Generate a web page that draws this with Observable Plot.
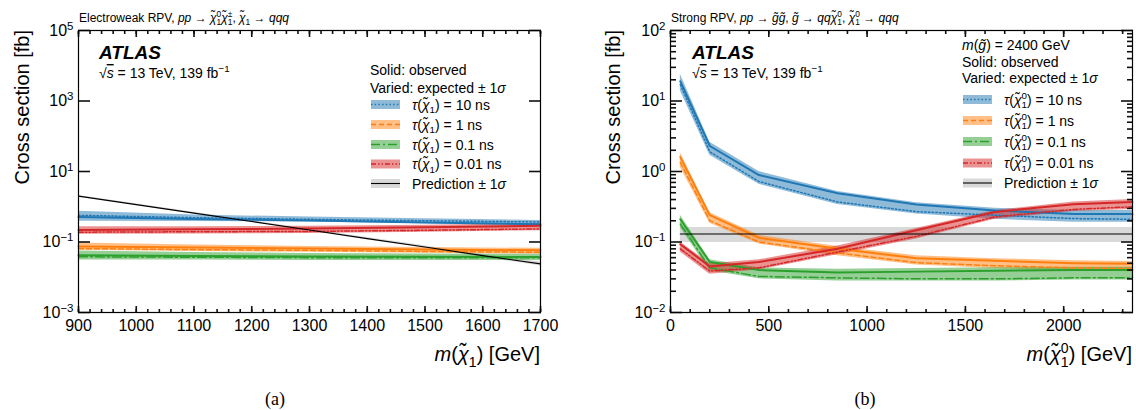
<!DOCTYPE html>
<html><head><meta charset="utf-8">
<script src="https://cdn.jsdelivr.net/npm/d3@7"></script>
<script src="https://cdn.jsdelivr.net/npm/@observablehq/plot@0.6"></script>
<style>
html,body{margin:0;padding:0;background:#fff;}
#wrap{position:relative;width:1136px;height:410px;overflow:hidden;background:#fff;}
#wrap svg{position:absolute;top:0;}
</style></head><body><div id="wrap"></div>
<script>
// ---------- Panel (a): Electroweak RPV ----------
const ewMass = [900, 1100, 1300, 1500, 1700];
const ew10Obs = [0.51, 0.45, 0.41, 0.36, 0.32];
const ew10Exp = [0.57, 0.49, 0.44, 0.40, 0.37];
const ew10Lo  = [0.39, 0.38, 0.37, 0.33, 0.29];
const ew10Hi  = [0.74, 0.58, 0.51, 0.46, 0.41];
const ew1Obs  = [0.075, 0.070, 0.065, 0.061, 0.058];
const ew1Exp  = [0.065, 0.061, 0.058, 0.054, 0.051];
const ew1Lo   = [0.058, 0.054, 0.051, 0.048, 0.045];
const ew1Hi   = [0.094, 0.082, 0.075, 0.070, 0.066];
const ew01Obs = [0.042, 0.040, 0.039, 0.038, 0.0375];
const ew01Exp = [0.038, 0.037, 0.036, 0.036, 0.036];
const ew01Lo  = [0.031, 0.031, 0.030, 0.030, 0.030];
const ew01Hi  = [0.056, 0.050, 0.047, 0.046, 0.045];
const ew001Obs = [0.22, 0.23, 0.24, 0.26, 0.29];
const ew001Exp = [0.19, 0.195, 0.20, 0.215, 0.235];
const ew001Lo  = [0.165, 0.17, 0.175, 0.19, 0.21];
const ew001Hi  = [0.27, 0.27, 0.28, 0.30, 0.33];
const ewPredMass = [900, 1000, 1100, 1200, 1300, 1400, 1500, 1600, 1700];
const ewPred   = [2.0, 1.15, 0.66, 0.38, 0.22, 0.125, 0.072, 0.041, 0.024];
const ewPredLo = [1.9, 1.09, 0.62, 0.36, 0.205, 0.115, 0.066, 0.037, 0.021];
const ewPredHi = [2.1, 1.21, 0.70, 0.40, 0.235, 0.135, 0.078, 0.045, 0.027];
const ewXTicks = [900, 1000, 1100, 1200, 1300, 1400, 1500, 1600, 1700];
const ewXMinor = d3.range(900, 1701, 20);
const ewYTicks = [1e-3, 1e-1, 1e1, 1e3, 1e5];

// ---------- Panel (b): Strong RPV ----------
const stMass = [50, 200, 450, 850, 1250, 1650, 2050, 2350];
const st10Obs = [19, 2.3, 0.89, 0.49, 0.34, 0.28, 0.25, 0.25];
const st10Exp = [17, 1.9, 0.72, 0.37, 0.27, 0.24, 0.215, 0.21];
const st10Lo  = [14, 1.7, 0.66, 0.34, 0.25, 0.21, 0.19, 0.19];
const st10Hi  = [24, 2.6, 1.0, 0.52, 0.36, 0.30, 0.28, 0.28];
const st1Obs  = [1.6, 0.24, 0.115, 0.080, 0.059, 0.054, 0.050, 0.049];
const st1Exp  = [1.35, 0.20, 0.10, 0.070, 0.051, 0.046, 0.043, 0.042];
const st1Lo   = [1.15, 0.185, 0.094, 0.064, 0.047, 0.042, 0.039, 0.038];
const st1Hi   = [1.85, 0.26, 0.125, 0.086, 0.064, 0.058, 0.054, 0.053];
const st01Obs = [0.21, 0.052, 0.040, 0.037, 0.038, 0.039, 0.040, 0.040];
const st01Exp = [0.18, 0.043, 0.0325, 0.031, 0.030, 0.030, 0.031, 0.031];
const st01Lo  = [0.16, 0.039, 0.030, 0.028, 0.028, 0.028, 0.029, 0.029];
const st01Hi  = [0.24, 0.056, 0.043, 0.041, 0.042, 0.043, 0.044, 0.044];
const st001Obs = [0.093, 0.045, 0.052, 0.080, 0.147, 0.267, 0.344, 0.37];
const st001Exp = [0.080, 0.0386, 0.043, 0.072, 0.12, 0.227, 0.29, 0.316];
const st001Lo  = [0.072, 0.035, 0.040, 0.066, 0.11, 0.21, 0.27, 0.29];
const st001Hi  = [0.10, 0.049, 0.056, 0.088, 0.155, 0.28, 0.37, 0.40];
const stPredMass = [50, 2350];
const stPred   = [0.13, 0.13];
const stPredLo = [0.098, 0.098];
const stPredHi = [0.16, 0.16];
const stXTicks = [0, 500, 1000, 1500, 2000];
const stXMinor = d3.range(0, 2351, 100);
const stYTicks = [1e-2, 1e-1, 1, 1e1, 1e2];
const stYMinor = [1e-2, 1e-1, 1, 10].flatMap(b => [2,3,4,5,6,7,8,9].map(k => k * b));

// ---------- styles ----------
const COL = {b: "#1f77b4", o: "#ff7f0e", g: "#2ca02c", r: "#d62728"};
const DASH = {b: "1.5,2.2", o: "5,3", g: "9,3,2,3", r: "5,2,1.5,2,1.5,2"};
const FONT = '"Liberation Sans", Arial, Helvetica, sans-serif';

function rows(mass, obs, exp, lo, hi) {
  return mass.map((m, i) => ({m, obs: obs[i], exp: exp[i], lo: lo[i], hi: hi[i]}));
}
const ewSeries = [
  {k: "b", d: rows(ewMass, ew10Obs, ew10Exp, ew10Lo, ew10Hi)},
  {k: "o", d: rows(ewMass, ew1Obs, ew1Exp, ew1Lo, ew1Hi)},
  {k: "g", d: rows(ewMass, ew01Obs, ew01Exp, ew01Lo, ew01Hi)},
  {k: "r", d: rows(ewMass, ew001Obs, ew001Exp, ew001Lo, ew001Hi)}
];
const stSeries = [
  {k: "b", d: rows(stMass, st10Obs, st10Exp, st10Lo, st10Hi)},
  {k: "o", d: rows(stMass, st1Obs, st1Exp, st1Lo, st1Hi)},
  {k: "g", d: rows(stMass, st01Obs, st01Exp, st01Lo, st01Hi)},
  {k: "r", d: rows(stMass, st001Obs, st001Exp, st001Lo, st001Hi)}
];
const ewPredRows = ewPredMass.map((m, i) => ({m, v: ewPred[i], lo: ewPredLo[i], hi: ewPredHi[i]}));
const stPredRows = stPredMass.map((m, i) => ({m, v: stPred[i], lo: stPredLo[i], hi: stPredHi[i]}));

function expFmt(d) {
  const e = Math.round(Math.log10(d));
  return "10^" + String(e).replace("-", "\u2212");
}

// inward ticks through the library's own axis marks (negative length points inside)
const TW = 1.6;
function inX(ticks, anchor, len) {
  return Plot.axisX(ticks, {anchor, tickSize: -len, tickFormat: () => "", label: null, strokeWidth: TW, stroke: "#111"});
}
function inY(ticks, anchor, len) {
  return Plot.axisY(ticks, {anchor, tickSize: -len, tickFormat: () => "", label: null, strokeWidth: TW, stroke: "#111"});
}

function panel({series, pred, xDomain, yDomain, xMajor, xMinor, yMajor, yMinor, width, marginLeft, marginRight}) {
  const marks = [];
  marks.push(Plot.areaY(pred, {x: "m", y1: "lo", y2: "hi", fill: "#bfbfbf", fillOpacity: 0.6}));
  for (const s of series) marks.push(Plot.areaY(s.d, {x: "m", y1: "lo", y2: "hi", fill: COL[s.k], fillOpacity: 0.5}));
  for (const s of series) {
    marks.push(Plot.lineY(s.d, {x: "m", y: "exp", stroke: COL[s.k], strokeWidth: 1.5, strokeDasharray: DASH[s.k]}));
    marks.push(Plot.lineY(s.d, {x: "m", y: "obs", stroke: COL[s.k], strokeWidth: 2}));
  }
  marks.push(Plot.lineY(pred, {x: "m", y: "v", stroke: "black", strokeWidth: 1.1}));
  for (const a of ["bottom", "top"]) {
    marks.push(inX(xMinor, a, 3));
    marks.push(inX(xMajor, a, 6));
  }
  for (const a of ["left", "right"]) {
    if (yMinor) marks.push(inY(yMinor, a, 6));
    marks.push(inY(yMajor, a, 12));
  }
  marks.push(Plot.frame({stroke: "black", strokeWidth: 1.2}));
  marks.push(Plot.axisX(xMajor, {anchor: "bottom", tickSize: 0, tickPadding: 7, tickFormat: d => String(d), label: null}));
  marks.push(Plot.axisY(yMajor, {anchor: "left", tickSize: 0, tickPadding: 5, tickFormat: expFmt, label: null}));
  const svg = Plot.plot({
    width, height: 343, marginLeft, marginRight, marginTop: 30, marginBottom: 31,
    style: {fontFamily: FONT, fontSize: "16px", color: "black", background: "transparent", overflow: "visible"},
    x: {domain: xDomain, axis: null},
    y: {type: "log", domain: yDomain, axis: null},
    marks
  });
  d3.select(svg).selectAll('g[aria-label="y-axis tick label"] text').each(function () {
    const s = this.textContent;
    if (!s.includes("^")) return;
    const [b, e] = s.split("^");
    const t = d3.select(this);
    t.text(b);
    t.append("tspan").attr("dy", "-0.5em").attr("font-size", "11.5px").text(e);
  });
  return svg;
}

const wrap = document.getElementById("wrap");
const svgA = panel({series: ewSeries, pred: ewPredRows, xDomain: [900, 1700], yDomain: [1e-3, 1e5],
  xMajor: ewXTicks, xMinor: ewXMinor, yMajor: ewYTicks, yMinor: null, width: 560, marginLeft: 78, marginRight: 20});
svgA.style.left = "0px";
wrap.appendChild(svgA);
const svgB = panel({series: stSeries, pred: stPredRows, xDomain: [0, 2350], yDomain: [1e-2, 1e2],
  xMajor: stXTicks, xMinor: stXMinor, yMajor: stYTicks, yMinor: stYMinor, width: 576, marginLeft: 110, marginRight: 4});
svgB.style.left = "560px";
wrap.appendChild(svgB);

// ---------- text overlay ----------
const ov = d3.select(wrap).append("svg").attr("width", 1136).attr("height", 410)
  .style("left", "0px").style("pointer-events", "none")
  .attr("font-family", FONT).attr("fill", "black");

function rich(x, y, parts, size, opts = {}) {
  const t = ov.append("text").attr("x", x).attr("y", y).attr("font-size", size);
  if (opts.anchor) t.attr("text-anchor", opts.anchor);
  if (opts.weight) t.attr("font-weight", opts.weight);
  if (opts.style) t.attr("font-style", opts.style);
  if (opts.family) t.attr("font-family", opts.family);
  if (opts.transform) t.attr("transform", opts.transform);
  let cur = 0;
  for (const p of parts) {
    const [s, f = "", dx] = p;
    let off = 0, sz = size;
    if (f.includes("sub")) { off = 0.28 * size; sz = 0.7 * size; }
    if (f.includes("sup")) { off = -0.42 * size; sz = 0.7 * size; }
    const ts = t.append("tspan").text(s).attr("font-size", sz);
    if (off - cur !== 0) ts.attr("dy", off - cur);
    if (dx) ts.attr("dx", dx);
    if (f.includes("it")) ts.attr("font-style", "italic");
    if (f.includes("ov")) ts.attr("text-decoration", "overline");
    cur = off;
  }
  return t;
}
const CHI = "\u03C7\u0303";
const GL = "g\u0303";

// titles
const w12 = -0.556 * 0.7 * 12;
rich(79, 22, [["Electroweak RPV, "], ["pp", "it"], [" \u2192 "], [CHI, "it"], ["1", "sub"], ["0", "sup", w12],
  [CHI, "it"], ["1", "sub"], ["\u00B1", "sup", w12], [", "], [CHI, "it"], ["1", "sub"], [" \u2192 "], ["qqq", "it"]], 12);
rich(671, 22, [["Strong RPV, "], ["pp", "it"], [" \u2192 "], [GL + GL, "it"], [", "], [GL, "it"], [" \u2192 "], ["qq", "it"],
  [CHI, "it"], ["1", "sub"], ["0", "sup", w12], [", "], [CHI, "it"], ["1", "sub"], ["0", "sup", w12], [" \u2192 "], ["qqq", "it"]], 12);

// y labels
rich(0, 0, [["Cross section [fb]"]], 20, {anchor: "end", transform: "translate(29,30) rotate(-90)"});
rich(0, 0, [["Cross section [fb]"]], 20, {anchor: "end", transform: "translate(620,30) rotate(-90)"});

// x labels
const w20 = -0.556 * 0.7 * 20;
rich(540, 361, [["m", "it"], ["("], [CHI, "it"], ["1", "sub"], [")"], [" [GeV]"]], 20, {anchor: "end"});
rich(1132, 361, [["m", "it"], ["("], [CHI, "it"], ["1", "sub"], ["0", "sup", w20], [")"], [" [GeV]"]], 20, {anchor: "end"});

// ATLAS labels
for (const x0 of [99, 692]) {
  rich(x0, 59, [["ATLAS"]], 19, {weight: "bold", style: "italic"});
  rich(x0, 78, [["\u221A"], ["s", "it ov"], [" = 13 TeV, 139 fb"], ["\u22121", "sup"]], 14);
}

// legends
const w14 = -0.556 * 0.7 * 14;
function legend(x0, headerYs, headers, entryYs, sup) {
  headers.forEach((h, i) => rich(x0, headerYs[i], h, 14));
  const keys = ["b", "o", "g", "r"];
  const labels = ["10", "1", "0.1", "0.01"];
  const sx = x0 + 1, sw = 29, tx = x0 + 42;
  keys.forEach((k, i) => {
    const y = entryYs[i];
    ov.append("rect").attr("x", sx).attr("y", y - 4.5).attr("width", sw).attr("height", 9)
      .attr("fill", COL[k]).attr("fill-opacity", 0.5);
    ov.append("line").attr("x1", sx).attr("x2", sx + sw).attr("y1", y).attr("y2", y)
      .attr("stroke", COL[k]).attr("stroke-width", 1.5).attr("stroke-dasharray", DASH[k]);
    const parts = [["\u03C4", "it"], ["("], [CHI, "it"], ["1", "sub"]];
    if (sup) parts.push(["0", "sup", w14]);
    parts.push([")"], [" = " + labels[i] + " ns"]);
    rich(tx, y + 5, parts, 14);
  });
  const y = entryYs[4];
  ov.append("rect").attr("x", sx).attr("y", y - 4.5).attr("width", sw).attr("height", 9)
    .attr("fill", "#bfbfbf").attr("fill-opacity", 0.6);
  ov.append("line").attr("x1", sx).attr("x2", sx + sw).attr("y1", y).attr("y2", y)
    .attr("stroke", "black").attr("stroke-width", 1.1);
  rich(tx, y + 5, [["Prediction \u00B1 1"], ["\u03C3", "it"]], 14);
}
legend(370, [75, 93], [[["Solid: observed"]], [["Varied: expected \u00B1 1"], ["\u03C3", "it"]]],
  [104.5, 124.5, 144.5, 164, 183.5], false);
legend(962, [50, 67, 83], [[["m", "it"], ["("], [GL, "it"], [") = 2400 GeV"]], [["Solid: observed"]],
  [["Varied: expected \u00B1 1"], ["\u03C3", "it"]]], [99.5, 120.5, 141.5, 163, 183], true);

// panel tags
rich(275, 405, [["(a)"]], 18, {anchor: "middle", family: '"Liberation Serif", "Times New Roman", serif'});
rich(865, 405, [["(b)"]], 18, {anchor: "middle", family: '"Liberation Serif", "Times New Roman", serif'});
</script></body></html>
